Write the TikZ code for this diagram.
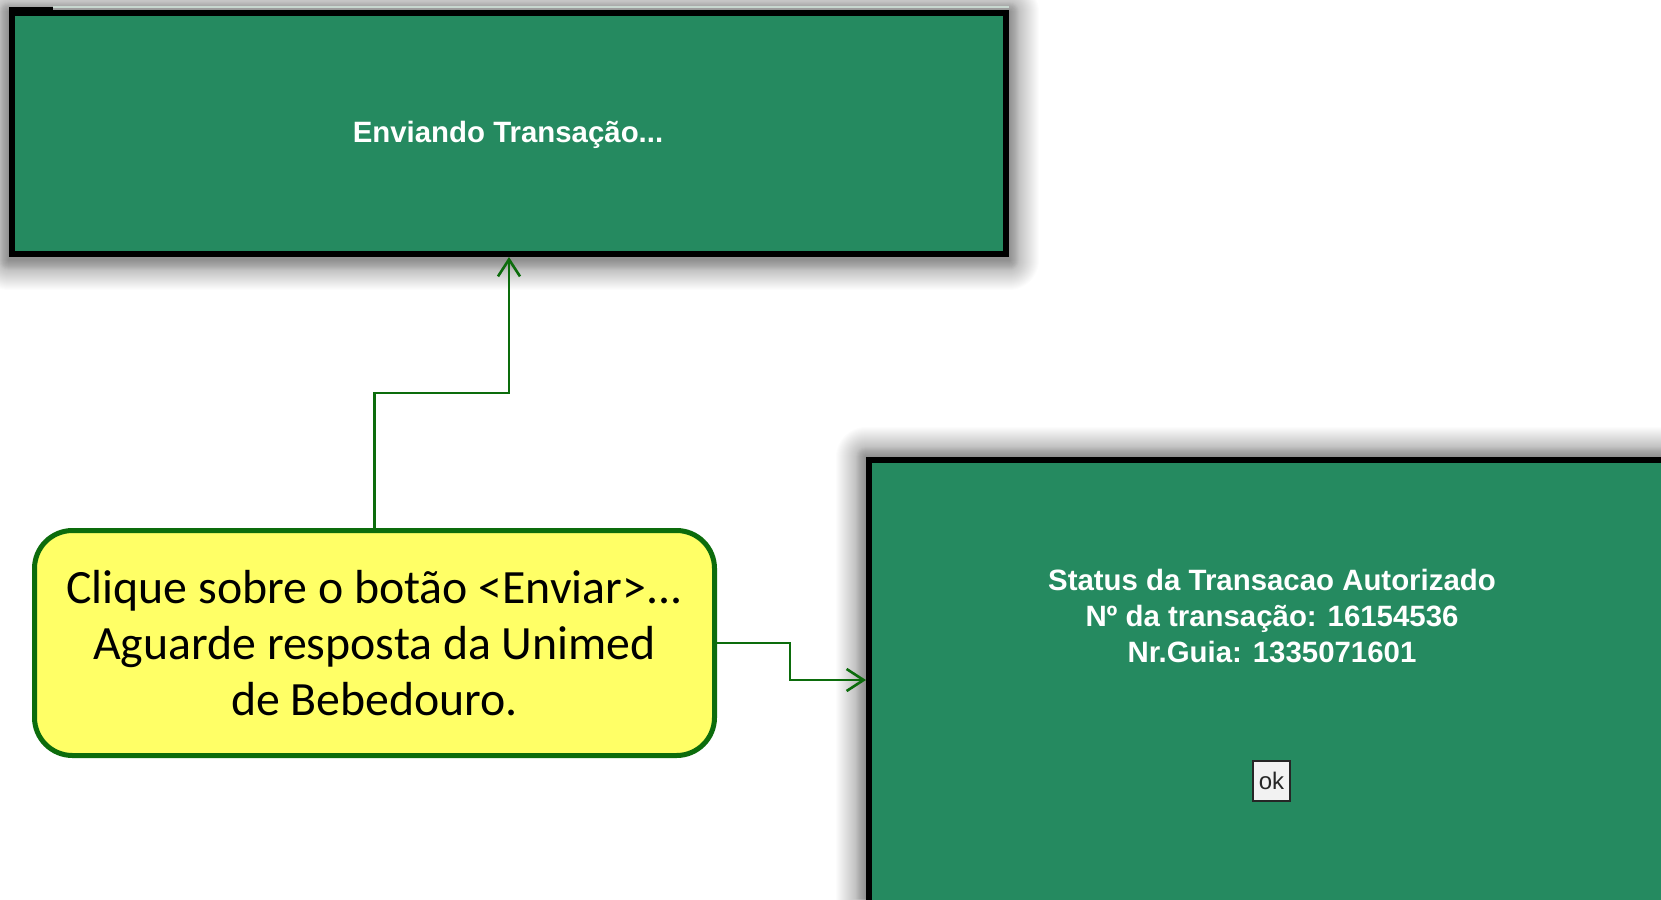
\documentclass[tikz,border=0pt]{standalone}
\usepackage{fontspec}
\setmainfont{Liberation Sans}
\newfontfamily\calibfont{Carlito}
\usetikzlibrary{arrows.meta,calc}
\definecolor{uigreen}{RGB}{37,138,96}
\definecolor{linkgreen}{RGB}{12,108,12}
\definecolor{notefill}{RGB}{255,255,102}
\definecolor{okfill}{RGB}{242,242,242}
\definecolor{paleline}{RGB}{200,216,208}
\pgfdeclarelayer{bg}
\pgfsetlayers{bg,main}
\begin{document}
\begin{tikzpicture}[x=1pt,y=-1pt,
  screen/.style={draw=black, line width=6pt, fill=uigreen, inner sep=0pt},
  uitext/.style={text=white, font=\fontsize{29.4}{36}\selectfont\bfseries, inner sep=0pt, anchor=base},
  notebox/.style={draw=linkgreen, line width=5pt, fill=notefill, rounded corners=38pt,
    minimum width=680pt, minimum height=225pt, align=center, inner sep=0pt,
    font=\calibfont\fontsize{47.8}{56}\selectfont},
  link/.style={draw=linkgreen, line width=2.6pt, -{Straight Barb[length=17pt,width=22pt]}},
  okbtn/.style={draw=black!85, line width=1.5pt, fill=okfill, inner sep=0pt,
    minimum width=37pt, minimum height=40pt, font=\fontsize{24}{28}\selectfont, text=black!85},
  shadowlayer/.style={fill=black, opacity=0.011}
]
\useasboundingbox (0,0) rectangle (1661,899);
\clip (0,0) rectangle (1661,899);

% top screen
\node[screen, minimum width=994pt, minimum height=241pt] (sendbox) at (509,133.5) {};
\fill[paleline] (53,6) rectangle (1009,8);
\fill[black] (9,7) rectangle (53,12);
\node[uitext] (sendtxt) at (508,142.3) {Enviando Transação...};

% result screen
\node[screen, minimum width=831pt, minimum height=500pt] (resultbox) at (1284.5,710) {};
\node[uitext] (res1) at (1272,590.7) {Status da Transacao Autorizado};
\node[uitext] (res2) at (1272,626.7) {Nº da transação: 16154536};
\node[uitext] (res3) at (1272,662.7) {Nr.Guia: 1335071601};
\node[okbtn] (okb) at (1271.5,781) {ok};

% soft shadows behind the screens
\begin{pgfonlayer}{bg}
\fill[white] (0,0) rectangle (1661,899);
\foreach \i in {1,...,30} {
  \fill[shadowlayer, rounded corners=\i pt]
    ($(sendbox.south west)+(-\i,\i+3)$) rectangle ($(sendbox.north east)+(\i,-\i+2)$);
  \fill[shadowlayer, rounded corners=\i pt]
    ($(resultbox.south west)+(-\i,\i)$) rectangle ($(resultbox.north east)+(\i,-\i)$);
}
\foreach \i in {1,...,10} {
  \fill[shadowlayer, rounded corners=\i pt]
    ($(sendbox.south west)+(-\i,\i+3)$) rectangle ($(sendbox.north east)+(\i,-\i+2)$);
  \fill[shadowlayer, rounded corners=\i pt]
    ($(resultbox.south west)+(-\i,\i)$) rectangle ($(resultbox.north east)+(\i,-\i)$);
}
\end{pgfonlayer}

% note
\node[notebox] (note) at (374.5,643) {Clique sobre o botão <Enviar>...\\Aguarde resposta da Unimed\\de Bebedouro.};

% connectors
\coordinate (k1) at (374.5,393);
\draw[link] (note.north) -- (k1) -| (sendbox.south);
\coordinate (k2) at (790,643);
\coordinate (k3) at (790,680);
\draw[link] (note.east) -- (k2) -- (k3) -- (k3 -| resultbox.west);
\end{tikzpicture}
\end{document}
